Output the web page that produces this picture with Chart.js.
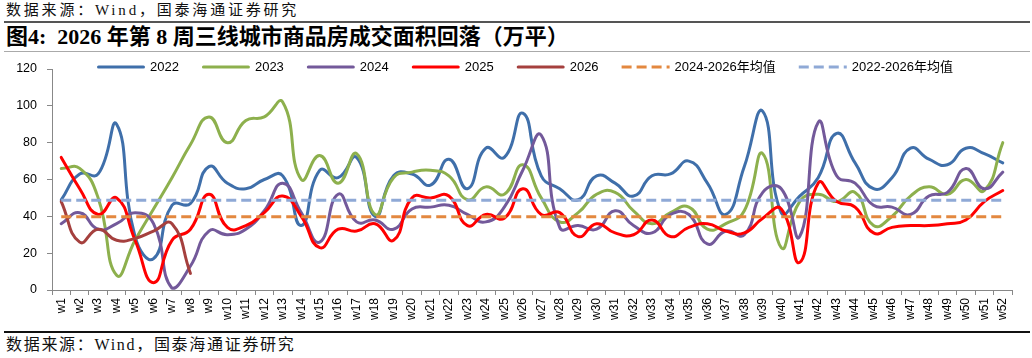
<!DOCTYPE html>
<html><head><meta charset="utf-8">
<script src="https://cdn.jsdelivr.net/npm/chart.js@4.4.1/dist/chart.umd.min.js"></script>
<style>
html,body{margin:0;padding:0;background:#fff;}
body{width:1032px;height:358px;position:relative;overflow:hidden;}
.src{position:absolute;left:6px;font-family:"Liberation Serif","Noto Sans CJK SC",serif;color:#111;white-space:nowrap;}
#src1{top:1px;font-size:15px;line-height:18px;letter-spacing:2.8px;}
#rule1{position:absolute;left:4px;width:1026px;top:21px;height:2px;background:#555;}
#title{position:absolute;left:6px;top:25px;line-height:24px;font-family:"Liberation Serif","Noto Sans CJK SC",serif;font-weight:bold;font-size:22px;color:#000;white-space:nowrap;}
#rule2{position:absolute;left:4px;width:1026px;top:51px;height:1px;background:#aaa;}
#wrap{position:absolute;left:0;top:56px;width:1032px;height:270px;}
#c{display:block;}
#rule3{position:absolute;left:4px;width:1026px;top:331px;height:2px;background:#111;}
#src2{top:335px;font-size:16px;line-height:19px;letter-spacing:1.7px;}
</style></head>
<body>
<div id="src1" class="src">数据来源：Wind，国泰海通证券研究</div>
<div id="rule1"></div>
<div id="title">图4:&nbsp; 2026 年第 8 周三线城市商品房成交面积回落（万平）</div>
<div id="rule2"></div>
<div id="wrap"><canvas id="c" width="1032" height="270"></canvas></div>
<div id="rule3"></div>
<div id="src2" class="src">数据来源：Wind，国泰海通证券研究</div>
<script>
const weeks = ["w1","w2","w3","w4","w5","w6","w7","w8","w9","w10","w11","w12","w13","w14","w15","w16","w17","w18","w19","w20","w21","w22","w23","w24","w25","w26","w27","w28","w29","w30","w31","w32","w33","w34","w35","w36","w37","w38","w39","w40","w41","w42","w43","w44","w45","w46","w47","w48","w49","w50","w51","w52"];
const y2022 = [49,63,63,90,29,17,46,47,67,58,55,60,62,35,65,61,72,40,62,63,57,71,55,77,72,96,62,55,49,62,58,51,62,63,70,58,41,67,97,42,51,61,85,69,55,61,77,71,68,77,74,69];
const y2023 = [66,66,50,8,27,44,61,79,94,80,92,94,102,60,73,58,74,41,61,64,65,62,49,56,52,68,50,37,42,52,53,43,36,42,45,33,36,43,74,23,48,52,48,53,35,40,51,56,52,60,54,80];
const y2024 = [36,42,33,36,42,36,1,13,32,30,33,43,58,42,26,52,37,38,33,44,45,46,41,37,45,65,84,34,35,33,43,35,31,41,41,25,32,30,53,55,29,91,62,58,46,45,41,51,53,66,55,64];
const y2025 = [72,55,41,50,27,4,27,33,52,34,35,42,51,40,23,33,32,36,27,50,50,51,35,41,39,55,41,42,29,36,31,30,38,29,34,36,32,31,39,44,15,58,48,45,31,34,35,35,36,38,48,54];
const y2026 = [48,26,33,27,28,32,36,9];
const avg2426 = [39.8,39.8,39.8,39.8,39.8,39.8,39.8,39.8,39.8,39.8,39.8,39.8,39.8,39.8,39.8,39.8,39.8,39.8,39.8,39.8,39.8,39.8,39.8,39.8,39.8,39.8,39.8,39.8,39.8,39.8,39.8,39.8,39.8,39.8,39.8,39.8,39.8,39.8,39.8,39.8,39.8,39.8,39.8,39.8,39.8,39.8,39.8,39.8,39.8,39.8,39.8,39.8];
const avg2226 = [48.7,48.7,48.7,48.7,48.7,48.7,48.7,48.7,48.7,48.7,48.7,48.7,48.7,48.7,48.7,48.7,48.7,48.7,48.7,48.7,48.7,48.7,48.7,48.7,48.7,48.7,48.7,48.7,48.7,48.7,48.7,48.7,48.7,48.7,48.7,48.7,48.7,48.7,48.7,48.7,48.7,48.7,48.7,48.7,48.7,48.7,48.7,48.7,48.7,48.7,48.7,48.7];
const yTicks = [0,20,40,60,80,100,120];

function solid(label, data, color, order){
  return {label, data, borderColor: color, backgroundColor: color, borderWidth: 3,
    pointRadius: 0, tension: 0.5, borderCapStyle: 'round', borderJoinStyle: 'round', fill: false, order};
}
function dashed(label, data, color, order){
  return {label, data, borderColor: color, backgroundColor: color, borderWidth: 3,
    borderDash: [10,5], pointRadius: 0, tension: 0, borderCapStyle: 'butt', fill: false, order};
}

const legendPlugin = {
  id: 'excelLegend',
  afterDraw(chart){
    const ctx = chart.ctx;
    ctx.save();
    ctx.font = '13px "Liberation Sans", "Noto Sans CJK SC", sans-serif';
    ctx.textBaseline = 'middle';
    ctx.textAlign = 'left';
    let x = 97; const y = 11;
    chart.data.datasets.forEach(ds => {
      ctx.beginPath();
      ctx.strokeStyle = ds.borderColor;
      ctx.lineWidth = ds.borderWidth;
      ctx.setLineDash(ds.borderDash || []);
      ctx.lineCap = ds.borderDash ? 'butt' : 'round';
      const inset = ds.borderDash ? 0 : 1.5;
      ctx.moveTo(x + inset, y); ctx.lineTo(x + 48 - inset, y); ctx.stroke();
      ctx.setLineDash([]);
      ctx.fillStyle = '#000';
      ctx.fillText(ds.label, x + 53, y + 0.5);
      x += 53 + ctx.measureText(ds.label).width + 23;
    });
    ctx.restore();
  }
};

new Chart(document.getElementById('c'), {
  type: 'line',
  data: {
    labels: weeks,
    datasets: [
      solid('2022', y2022, '#3F6FAA', 6),
      solid('2023', y2023, '#8DB04D', 5),
      solid('2024', y2024, '#73599A', 4),
      solid('2025', y2025, '#FF0000', 3),
      solid('2026', y2026, '#A5403E', 2),
      dashed('2024-2026年均值', avg2426, '#E3883F', 1),
      dashed('2022-2026年均值', avg2226, '#8FA9D6', 0)
    ]
  },
  options: {
    responsive: false,
    animation: false,
    events: [],
    layout: {padding: {left: 0, right: 20, top: 13, bottom: 0}},
    plugins: {legend: {display: false}, tooltip: {enabled: false}},
    scales: {
      x: {
        offset: true,
        afterFit(s){ s.height = 36; s.paddingLeft = 0; s.paddingRight = 0; },
        grid: {display: true, offset: true, drawOnChartArea: false, drawTicks: true, tickLength: 5, color: '#888'},
        border: {display: true, color: '#888', width: 1},
        ticks: {autoSkip: false, minRotation: 90, maxRotation: 90, padding: 3, color: '#000',
          font: {family: '"Liberation Sans", Arial, sans-serif', size: 12}}
      },
      y: {
        min: 0, max: 120,
        afterFit(s){ s.width = 52; s.paddingTop = 0; s.paddingBottom = 0; },
        afterBuildTicks(axis){ axis.ticks = yTicks.map(v => ({value: v})); },
        grid: {display: true, drawOnChartArea: false, drawTicks: true, tickLength: 5, color: '#888'},
        border: {display: true, color: '#888', width: 1},
        ticks: {padding: 10, color: '#000', font: {family: '"Liberation Sans", Arial, sans-serif', size: 12.5}}
      }
    }
  },
  plugins: [legendPlugin]
});
</script>
</body></html>
